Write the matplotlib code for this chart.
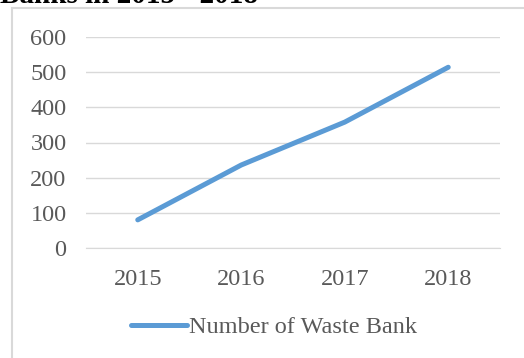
import numpy as np
import matplotlib.pyplot as plt
from matplotlib.lines import Line2D

years = ["2015", "2016", "2017", "2018"]
waste_banks = [80, 236, 358, 514]
yticks = [0, 100, 200, 300, 400, 500, 600]

W, H = 524, 358
plt.rcParams["font.family"] = ["Liberation Serif", "DejaVu Serif"]

fig = plt.figure(figsize=(W / 100, H / 100), dpi=100)
ax = fig.add_axes([86 / W, 1 - 248 / H, (500 - 86) / W, (248 - 37) / H])

x = np.arange(len(years))
ax.plot(x, waste_banks, color="#5B9BD5", linewidth=3.6, solid_capstyle="round",
        solid_joinstyle="round", label="Number of Waste Bank")

ax.set_xlim(-0.5, len(years) - 0.5)
ax.set_ylim(0, 600)
ax.set_yticks(yticks)
ax.set_xticks(x)
ax.set_xticklabels(years)
ax.grid(axis="y", color="#D9D9D9", linewidth=1)
ax.set_axisbelow(True)
for s in ["top", "right", "left"]:
    ax.spines[s].set_visible(False)
ax.spines["bottom"].set_color("#D9D9D9")
ax.tick_params(axis="both", length=0, labelsize=17.5, colors="#595959")
ax.tick_params(axis="y", pad=14)
ax.tick_params(axis="x", pad=15)

leg = fig.legend(loc="center", bbox_to_anchor=(274 / W, 1 - 327 / H), frameon=False,
                 fontsize=17.5, handlelength=2.3, handletextpad=0.1)
for t in leg.get_texts():
    t.set_color("#595959")

# chart border (left and top visible)
fig.add_artist(Line2D([12 / W, 12 / W], [0, 1 - 8 / H], transform=fig.transFigure,
                      color="#D9D9D9", linewidth=1.5))
fig.add_artist(Line2D([12 / W, 1], [1 - 8 / H, 1 - 8 / H], transform=fig.transFigure,
                      color="#D9D9D9", linewidth=1.5))

# clipped caption above the chart
fig.text(0, 1 - 3 / H, "Banks in 2015 - 2018", fontsize=21, fontweight="bold",
         color="black", va="baseline", ha="left")

fig.savefig("out.png", dpi=100)
